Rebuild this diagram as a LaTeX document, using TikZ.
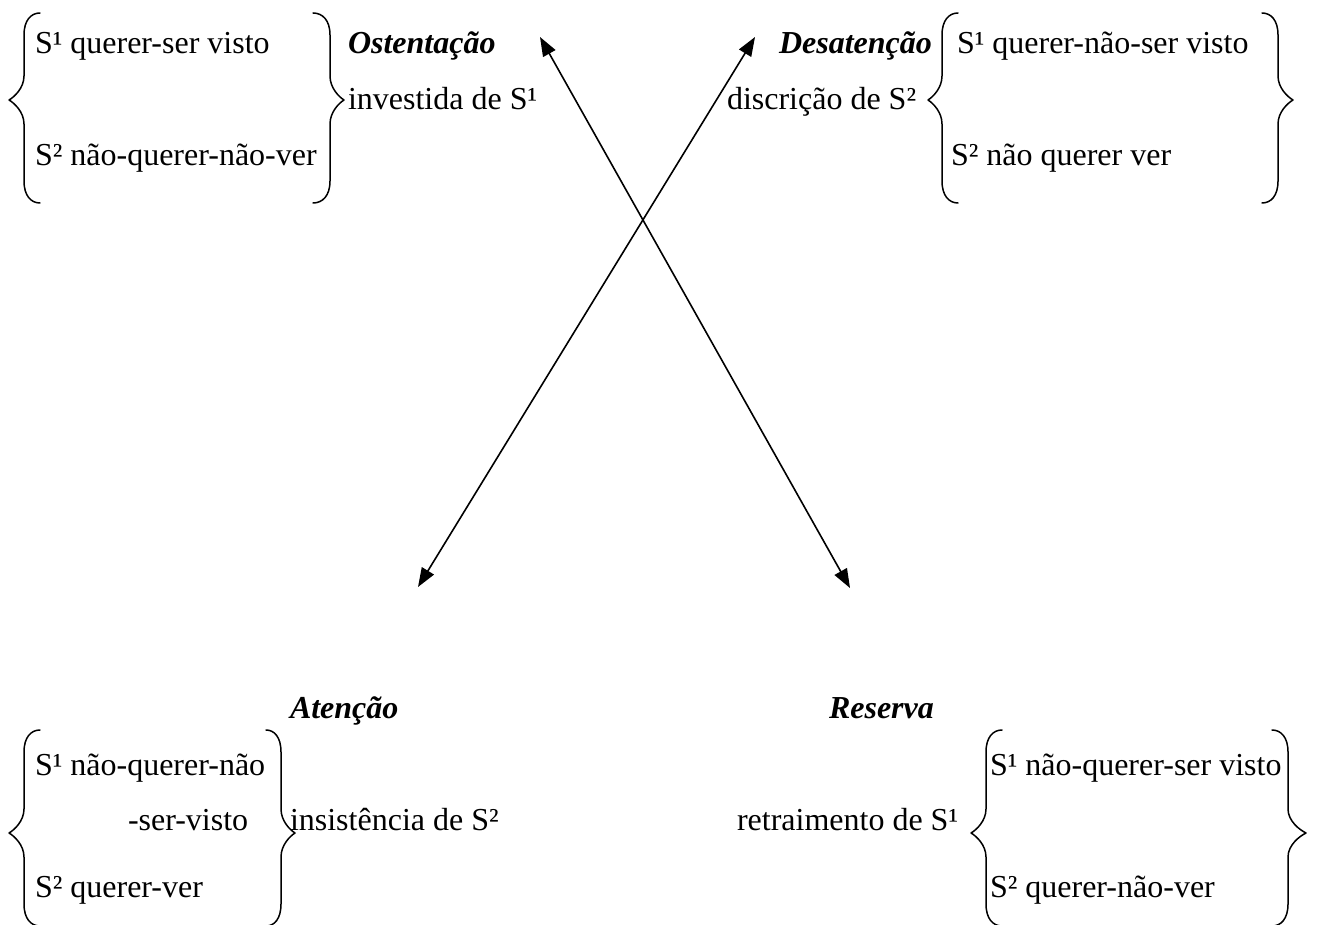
\documentclass[tikz,border=0pt]{standalone}
\usepackage{fontspec}
\setmainfont{Liberation Serif}
\usetikzlibrary{arrows.meta}
\newcommand\drawbrace[6]{% tipx, vertical x, cusp x, top, mid, bottom
  \pgfmathsetmacro\brcA{#2+(#1-#2)*0.45}%
  \pgfmathsetmacro\brcB{#3+(#2-#3)*0.35}%
  \draw[bracestyle] (#1,#4) .. controls (\brcA,#4) and (#2,{#4+7}) .. (#2,{#4+22})
    -- (#2,{#5-24}) .. controls (#2,{#5-12}) and (\brcB,{#5-3}) .. (#3,#5)
    .. controls (\brcB,{#5+3}) and (#2,{#5+12}) .. (#2,{#5+24})
    -- (#2,{#6-22}) .. controls (#2,{#6-7}) and (\brcA,#6) .. (#1,#6);}
\begin{document}
\begin{tikzpicture}[x=1pt,y=-1pt,
  txt/.style={anchor=base west,inner sep=0pt,outer sep=0pt,font=\fontsize{32}{38}\selectfont},
  lbl/.style={txt,font=\fontsize{32}{38}\selectfont\bfseries\itshape},
  bracestyle/.style={line width=1.5pt,line cap=round,line join=round},
  arr/.style={line width=1.6pt,{Triangle[length=19pt,width=14pt]}-{Triangle[length=19pt,width=14pt]}}]
\useasboundingbox (0,0) rectangle (1319,925);
\begin{scope}
\clip (0,0) rectangle (1319,925);
% top-left block
\drawbrace{40}{24}{9}{13}{100}{203}
\drawbrace{313}{330}{344}{13}{100}{203}
\node[txt] (tl1) at (35,54) {S¹ querer-ser visto};
\node[txt] (tl2) at (35,166) {S² não-querer-não-ver};
\node[lbl] (ost) at (348,54) {Ostentação};
\node[txt] (inv) at (348,110) {investida de S¹};
% top-right block
\node[lbl] (des) at (779,54) {Desatenção};
\node[txt] (dis) at (727,110) {discrição de S²};
\drawbrace{958}{942}{928}{13}{100}{203}
\drawbrace{1262}{1278}{1293}{13}{100}{203}
\node[txt] (tr1) at (957,54) {S¹ querer-não-ser visto};
\node[txt] (tr2) at (951,166) {S² não querer ver};
% bottom-left block
\node[lbl] (ate) at (290,718) {Atenção};
\drawbrace{40}{24}{9}{730}{833}{926}
\drawbrace{266}{281}{295}{730}{833}{926}
\node[txt] (bl1) at (35,775) {S¹ não-querer-não};
\node[txt] (bl1b) at (128,830) {-ser-visto};
\node[txt] (bl2) at (35,897) {S² querer-ver};
\node[txt] (ins) at (290,830) {insistência de S²};
% bottom-right block
\node[lbl] (res) at (829,718) {Reserva};
\node[txt] (ret) at (737,830) {retraimento de S¹};
\drawbrace{1002}{986}{971}{730}{833}{926}
\drawbrace{1272}{1288}{1306}{730}{833}{926}
\node[txt] (br1) at (990,775) {S¹ não-querer-ser visto};
\node[txt] (br2) at (990,897) {S² querer-não-ver};
\end{scope}
% arrows
\coordinate (a1s) at (540,37);
\coordinate (a1e) at (850,588);
\coordinate (a2s) at (755,37);
\coordinate (a2e) at (418,587);
\draw[arr] (a1s) -- (a1e);
\draw[arr] (a2s) -- (a2e);
\end{tikzpicture}
\end{document}
